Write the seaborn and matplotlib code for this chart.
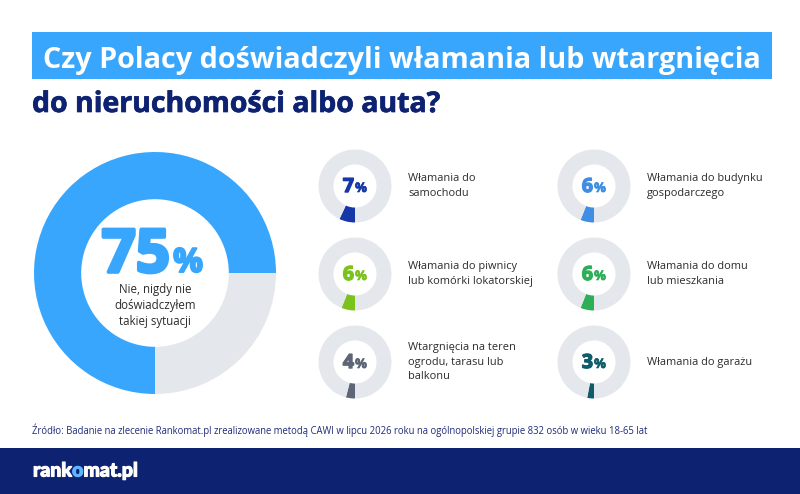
import matplotlib
matplotlib.use("Agg")
import matplotlib.pyplot as plt
import matplotlib.patheffects as pe
import seaborn as sns
from matplotlib.patches import Rectangle

# chart values
main_value = 75
main_label = "Nie, nigdy nie\ndoświadczyłem\ntakiej sytuacji"
categories = [
    "Włamania do\nsamochodu",
    "Włamania do piwnicy\nlub komórki lokatorskiej",
    "Wtargnięcia na teren\nogrodu, tarasu lub\nbalkonu",
    "Włamania do budynku\ngospodarczego",
    "Włamania do domu\nlub mieszkania",
    "Włamania do garażu",
]
values = [7, 6, 4, 6, 6, 3]
seg_colors = ["#1637A8", "#7CC21C", "#5D6577", "#3F8EE4", "#2DAF58", "#0F5C6B"]

title_1 = "Czy Polacy doświadczyli włamania lub wtargnięcia"
title_2 = "do nieruchomości albo auta?"
source = ("Źródło: Badanie na zlecenie Rankomat.pl zrealizowane metodą CAWI w lipcu 2026 roku "
          "na ogólnopolskiej grupie 832 osób w wieku 18-65 lat")

BLUE = "#38A6FC"
GREY = "#E4E7EC"
NAVY = "#0E2272"

sns.set_theme(style="white")
plt.rcParams["font.family"] = ["Open Sans", "DejaVu Sans"]

W, H = 800, 494
fig = plt.figure(figsize=(8, 4.94), dpi=100)
ax = fig.add_axes([0, 0, 1, 1])
renderer = fig.canvas.get_renderer()


def Y(y):
    return H - y


def fit(t, width):
    bb = t.get_window_extent(renderer)
    t.set_fontsize(t.get_fontsize() * width / bb.width)


def heavy(color, lw=1.2):
    return [pe.withStroke(linewidth=lw, foreground=color)]


# title
ax.add_patch(Rectangle((32, Y(79)), 740, 47, color=BLUE, lw=0))
t = ax.text(43, Y(68), title_1, color="white", fontsize=19, fontweight="bold", va="baseline")
fit(t, 716)
t = ax.text(32, Y(112), title_2, color=NAVY, fontsize=19, fontweight="bold", va="baseline",
            path_effects=heavy(NAVY, 0.5))
fit(t, 407)

# big donut
cx, cy, r = 155, 273, 121
ax.pie([main_value, 100 - main_value], colors=[BLUE, GREY], startangle=0,
       counterclock=True, center=(cx, Y(cy)), radius=r, frame=True,
       wedgeprops=dict(width=r * 0.39, linewidth=0))
ax.text(cx + 15, Y(272), f"{main_value}", color=BLUE, fontsize=43, fontweight="bold",
        ha="right", va="baseline", path_effects=heavy(BLUE, 2.6))
ax.text(cx + 18, Y(272), "%", color=BLUE, fontsize=24, fontweight="bold",
        ha="left", va="baseline", path_effects=heavy(BLUE, 1.4))
ax.text(cx, Y(306), main_label, color="#2B2B2B", fontsize=8.3, ha="center", va="center",
        linespacing=1.3)

# small donuts
col_x = [355, 594]
row_y = [186, 274, 362]
for i, (lab, v, c) in enumerate(zip(categories, values, seg_colors)):
    x = col_x[i // 3]
    y = row_y[i % 3]
    ax.pie([v, 100 - v], colors=[c, GREY], startangle=270, counterclock=False,
           center=(x, Y(y)), radius=36.5, frame=True,
           wedgeprops=dict(width=36.5 * 0.41, linewidth=0))
    ax.text(x - 1, Y(y + 6), f"{v}", color=c, fontsize=14, fontweight="bold",
            ha="right", va="baseline", path_effects=heavy(c, 1.0))
    ax.text(x, Y(y + 6), "%", color=c, fontsize=9.5, fontweight="bold",
            ha="left", va="baseline", path_effects=heavy(c, 0.5))
    ax.text(x + 53, Y(y), lab, color="#2B2B2B", fontsize=7.9, ha="left", va="center",
            linespacing=1.45)

# source
t = ax.text(32, Y(434), source, color="#1E2C78", fontsize=7.5, va="baseline")
fit(t, 623)

# footer
ax.add_patch(Rectangle((0, 0), W, H - 448, color=NAVY, lw=0))
logo = ["rank", "o", "mat.pl"]
logo_colors = ["white", "#5BB5FF", "white"]
kw = dict(fontsize=14, fontweight="black", va="center", family=["Lato", "DejaVu Sans"])
x0 = 33
prefix = ""
for part, col in zip(logo, logo_colors):
    if prefix:
        probe = ax.text(0, 0, prefix, **kw)
        off = probe.get_window_extent(renderer).width
        probe.remove()
    else:
        off = 0
    ax.text(x0 + off, Y(471), part, color=col, path_effects=heavy(col, 0.8), **kw)
    prefix += part

ax.set_xlim(0, W)
ax.set_ylim(0, H)
ax.set_aspect("equal")
ax.axis("off")
fig.savefig("out.png", dpi=100, facecolor="white")
